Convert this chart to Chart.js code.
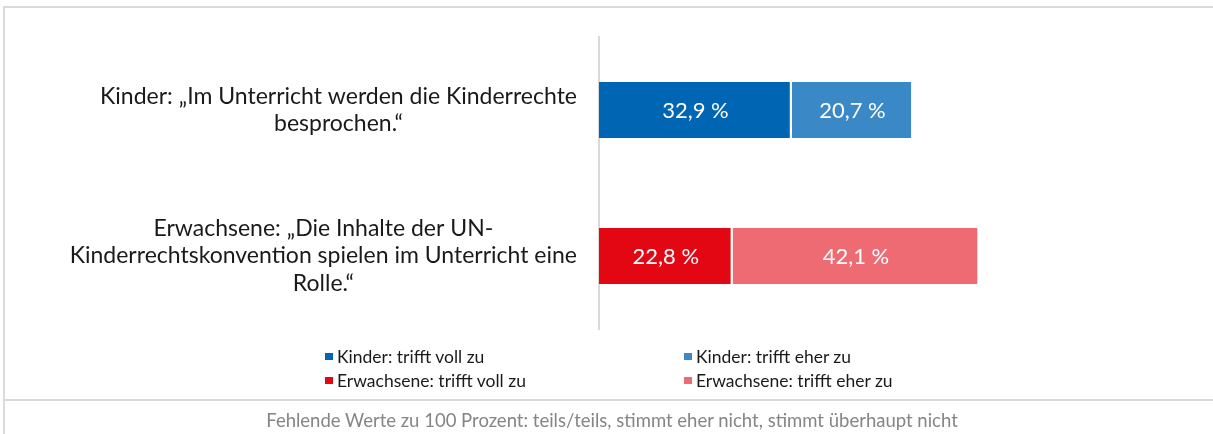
<!DOCTYPE html>
<html>
<head>
<meta charset="utf-8">
<script src="https://cdn.jsdelivr.net/npm/chart.js@4.4.1/dist/chart.umd.min.js"></script>
<style>
  html, body { margin: 0; padding: 0; background: #fff; }
  #wrap { position: relative; width: 1213px; height: 434px; overflow: hidden; font-family: Lato, "Open Sans", sans-serif; }
  #c { position: absolute; left: 0; top: 0; }
  .rule { position: absolute; background: #dadada; }
  #legend { position: absolute; left: 325px; top: 344px; display: grid; grid-template-columns: 359px 359px; row-gap: 0; }
  .li { display: flex; align-items: center; height: 24.5px; font-size: 17.5px; color: #1a1a1a; white-space: nowrap; }
  .sw { width: 8px; height: 7px; margin-right: 4px; flex: none; }
  #note { position: absolute; left: 12px; width: 1200px; top: 409px; text-align: center; font-size: 18.5px; color: #858585; white-space: nowrap; }
</style>
</head>
<body>
<div id="wrap">
  <canvas id="c" width="1213" height="434"></canvas>
  <div class="rule" style="left:3px;top:6px;width:1210px;height:2px"></div>
  <div class="rule" style="left:3px;top:6px;width:2px;height:428px"></div>
  <div class="rule" style="left:3px;top:399px;width:1210px;height:2px"></div>
  <div id="legend"></div>
  <div id="note"></div>
</div>
<script>
// ---- data ----
const categories = [
  ["Kinder: \u201EIm Unterricht werden die Kinderrechte", "besprochen.\u201C"],
  ["Erwachsene: \u201EDie Inhalte der UN-", "Kinderrechtskonvention spielen im Unterricht eine", "Rolle.\u201C"]
];
const seriesNames = [
  "Kinder: trifft voll zu",
  "Kinder: trifft eher zu",
  "Erwachsene: trifft voll zu",
  "Erwachsene: trifft eher zu"
];
const kinderVoll = [32.9, null];
const kinderEher = [20.7, null];
const erwachseneVoll = [null, 22.8];
const erwachseneEher = [null, 42.1];
const seriesColors = ["#0066b3", "#3a88c6", "#e30613", "#ee6b74"];
const noteText = "Fehlende Werte zu 100 Prozent: teils/teils, stimmt eher nicht, stimmt \u00FCberhaupt nicht";

const seriesValues = [kinderVoll, kinderEher, erwachseneVoll, erwachseneEher];

const datasets = seriesNames.map((name, i) => ({
  label: name,
  data: seriesValues[i],
  backgroundColor: seriesColors[i],
  borderColor: "#ffffff",
  borderWidth: { right: 2, left: 0, top: 0, bottom: 0 },
  borderSkipped: false,
  categoryPercentage: 1,
  barPercentage: 0.385
}));

const catLabelPlugin = {
  id: "catLabels",
  afterDraw(chart) {
    const ctx = chart.ctx;
    const y = chart.scales.y;
    ctx.save();
    ctx.font = "23px Lato";
    ctx.fillStyle = "#1a1a1a";
    ctx.textAlign = "center";
    ctx.textBaseline = "middle";
    const right = chart.chartArea.left - 22;
    const lh = 27.5;
    categories.forEach((lines, i) => {
      const yc = y.getPixelForTick(i);
      const w = Math.max(...lines.map(l => ctx.measureText(l).width));
      const cx = right - w / 2;
      lines.forEach((l, j) => ctx.fillText(l, cx, yc + (j - (lines.length - 1) / 2) * lh));
    });
    ctx.restore();
  }
};

const valueLabelPlugin = {
  id: "valueLabels",
  afterDatasetsDraw(chart) {
    const ctx = chart.ctx;
    ctx.save();
    ctx.font = "22px Lato";
    ctx.fillStyle = "#ffffff";
    ctx.textAlign = "center";
    ctx.textBaseline = "middle";
    chart.data.datasets.forEach((ds, di) => {
      const meta = chart.getDatasetMeta(di);
      meta.data.forEach((bar, i) => {
        const v = ds.data[i];
        if (v === null || v === undefined) return;
        const cx = (bar.x + bar.base) / 2;
        ctx.fillText(v.toFixed(1).replace(".", ",") + " %", cx, bar.y + 1);
      });
    });
    ctx.restore();
  }
};

new Chart(document.getElementById("c"), {
  type: "bar",
  data: { labels: categories, datasets },
  options: {
    indexAxis: "y",
    responsive: false,
    animation: false,
    layout: { padding: { top: 37, right: 28, bottom: 105, left: 0 } },
    plugins: { legend: { display: false }, tooltip: { enabled: false } },
    scales: {
      x: { stacked: true, min: 0, max: 100, display: false },
      y: {
        stacked: true,
        grid: { display: false },
        border: { display: true, color: "#d9d9d9", width: 2 },
        ticks: { display: false },
        afterFit(scale) { scale.width = 599; }
      }
    }
  },
  plugins: [catLabelPlugin, valueLabelPlugin]
});

// HTML legend built from the series arrays
const legend = document.getElementById("legend");
seriesNames.forEach((name, i) => {
  const item = document.createElement("div");
  item.className = "li";
  const sw = document.createElement("span");
  sw.className = "sw";
  sw.style.background = seriesColors[i];
  const t = document.createElement("span");
  t.textContent = name;
  item.appendChild(sw);
  item.appendChild(t);
  legend.appendChild(item);
});
document.getElementById("note").textContent = noteText;
</script>
</body>
</html>
